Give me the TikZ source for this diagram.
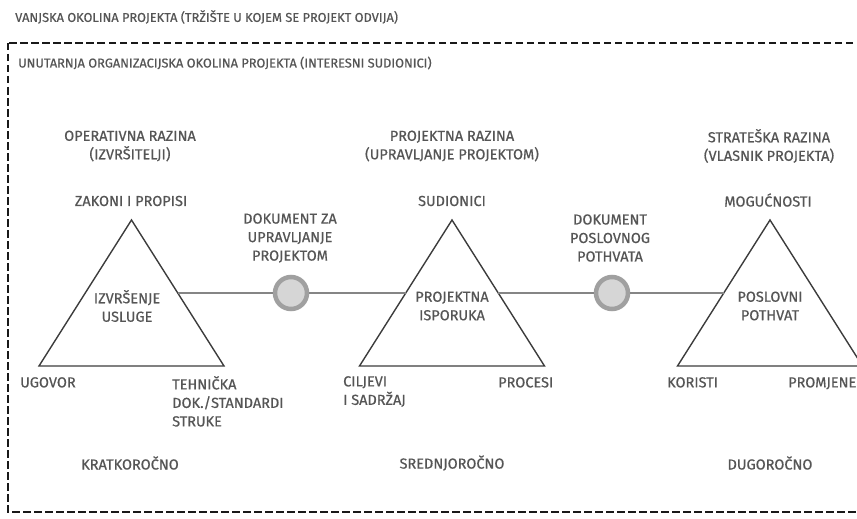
\documentclass[tikz,border=0pt]{standalone}
\usepackage{fontspec}
\setmainfont{Fira Sans}
\newfontfamily\lblfamily{Fira Sans}[FakeBold=0.6]
\usetikzlibrary{calc}
\definecolor{txtgray}{HTML}{555555}
\definecolor{trigray}{HTML}{3C3C3C}
\definecolor{linkgray}{HTML}{858585}
\definecolor{docedge}{HTML}{A0A0A0}
\definecolor{docfill}{HTML}{D6D6D6}
\newcommand{\lblfont}{\lblfamily\fontsize{14.5}{18.5}\selectfont}
\newcommand{\headfont}{\lblfamily\fontsize{12.8}{15}\selectfont}

\begin{document}
\begin{tikzpicture}[x=1pt,y=-1pt,
  lbl/.style={text=txtgray, font=\lblfont, inner sep=0pt, align=center},
  lbll/.style={lbl, font=\headfont, align=left, anchor=west},
  lbltop/.style={lbl, align=left, anchor=north west},
  tri/.style={draw=trigray, line width=1.4pt},
  link/.style={draw=linkgray, line width=2.4pt},
  doc/.style={circle, draw=docedge, fill=docfill, line width=4.5pt, minimum size=32pt, inner sep=0pt}]
\path[use as bounding box] (0,0) rectangle (857,519);
\clip (0,0) rectangle (857,519);
% environment frame
\draw[black!90, line width=2.6pt, dash pattern=on 7.5pt off 3.5pt] (8,43) rectangle (880,512);
\node[lbll] (outer) at (15,17) {VANJSKA OKOLINA PROJEKTA (TRŽIŠTE U KOJEM SE PROJEKT ODVIJA)};
\node[lbll] (inner) at (18,63) {UNUTARNJA ORGANIZACIJSKA OKOLINA PROJEKTA (INTERESNI SUDIONICI)};
% triangles
\foreach \n/\cx in {opr/131.5, prj/452, str/770} {
  \coordinate (\n-t) at (\cx,220);
  \coordinate (\n-l) at (\cx-92.5,366);
  \coordinate (\n-r) at (\cx+92.5,366);
  \coordinate (\n-w) at ($(\n-t)!0.5!(\n-l)$);
  \coordinate (\n-e) at ($(\n-t)!0.5!(\n-r)$);
  \draw[tri] (\n-t) -- (\n-l) -- (\n-r) -- cycle;
}
\node[doc] (doc1) at (291,293) {};
\node[doc] (doc2) at (612,293) {};
\draw[link] (opr-e) -- (doc1) -- (prj-w);
\draw[link] (prj-e) -- (doc2) -- (str-w);
% levels
\node[lbl] (lvl1) at (130,146) {OPERATIVNA RAZINA\\(IZVRŠITELJI)};
\node[lbl] (lvl2) at (452,146) {PROJEKTNA RAZINA\\(UPRAVLJANJE PROJEKTOM)};
\node[lbl] (lvl3) at (769,146) {STRATEŠKA RAZINA\\(VLASNIK PROJEKTA)};
\node[lbl] (top1) at (131,201) {ZAKONI I PROPISI};
\node[lbl] (top2) at (452,201) {SUDIONICI};
\node[lbl] (top3) at (768,200) {MOGUĆNOSTI};
\node[lbl] (doclbl1) at (290,238) {DOKUMENT ZA\\UPRAVLJANJE\\PROJEKTOM};
\node[lbl] (doclbl2) at (610,238) {DOKUMENT\\POSLOVNOG\\POTHVATA};
\node[lbl] (mid1) at (127,306) {IZVRŠENJE\\USLUGE};
\node[lbl] (mid2) at (452,306) {PROJEKTNA\\ISPORUKA};
\node[lbl] (mid3) at (770,306) {POSLOVNI\\POTHVAT};
% corners
\node[lbltop] (ugovor) at (20,377) {UGOVOR};
\node[lbltop] (tehnicka) at (172,376) {TEHNIČKA\\DOK./STANDARDI\\STRUKE};
\node[lbltop] (ciljevi) at (343,376) {CILJEVI\\I SADRŽAJ};
\node[lbltop] (procesi) at (498,377) {PROCESI};
\node[lbltop] (koristi) at (667,377) {KORISTI};
\node[lbltop] (promjene) at (788,377) {PROMJENE};
% horizons
\node[lbl] (kratko) at (130,463) {KRATKOROČNO};
\node[lbl] (srednje) at (452,463) {SREDNJOROČNO};
\node[lbl] (dugo) at (770,463) {DUGOROČNO};
\end{tikzpicture}
\end{document}
